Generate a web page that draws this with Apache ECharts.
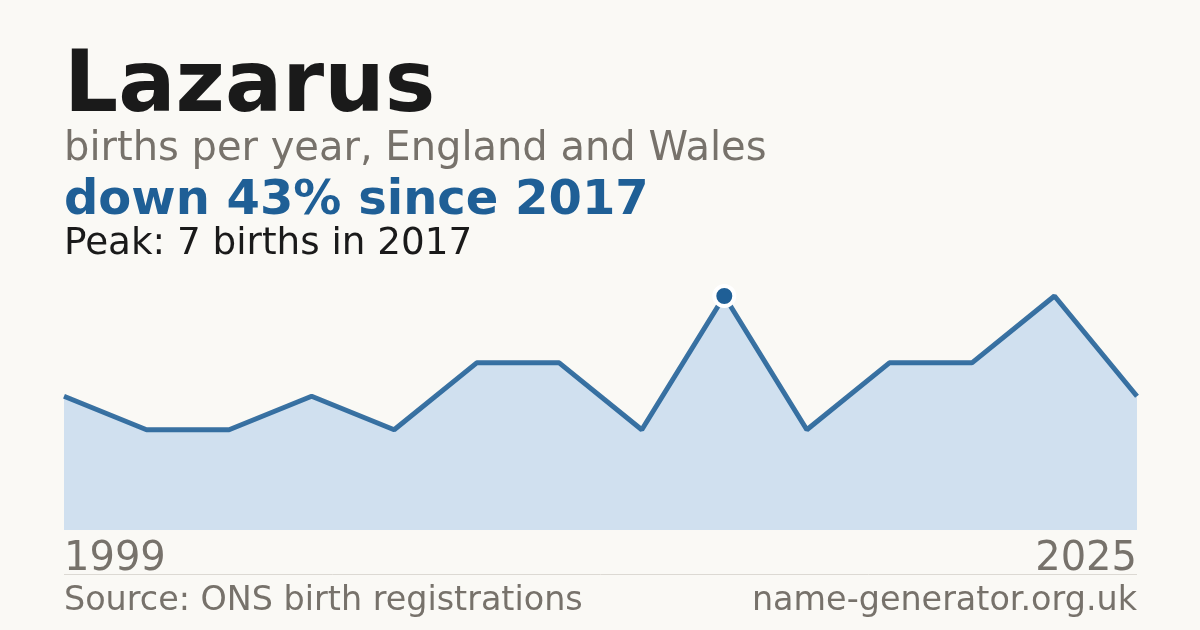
<!DOCTYPE html>
<html>
<head>
<meta charset="utf-8">
<script src="https://cdn.jsdelivr.net/npm/echarts@6/dist/echarts.min.js"></script>
<style>
html,body{margin:0;padding:0;background:#faf9f5;}
#c{width:1200px;height:630px;}
</style>
</head>
<body>
<div id="c"></div>
<script>
const years = ['1999','2002','2004','2006','2008','2010','2012','2014','2017','2019','2021','2022','2024','2025'];
const births = [4,3,3,4,3,5,5,3,7,3,5,5,7,4];
const peakIndex = 8;

const FONT = '"DejaVu Sans", sans-serif';
const chart = echarts.init(document.getElementById('c'), null, {renderer:'canvas'});

const seriesData = births.map((v,i)=> i===peakIndex ? {
  value: v, symbol:'circle', symbolSize:20,
  itemStyle:{color:'#1f5f96', borderColor:'#ffffff', borderWidth:4}
} : v);

chart.setOption({
  backgroundColor:'#faf9f5',
  animation:false,
  grid:{left:64, right:63, top:296, bottom:100, containLabel:false},
  xAxis:{
    type:'category', data:years, boundaryGap:false,
    axisLine:{show:false}, axisTick:{show:false}, splitLine:{show:false},
    axisLabel:{
      interval:(i)=> i===0 || i===years.length-1,
      color:'#77726b', fontFamily:FONT, fontSize:40, margin:10,
      alignMinLabel:'left', alignMaxLabel:'right'
    }
  },
  yAxis:{type:'value', min:0, max:7, show:false},
  series:[{
    type:'line', data:seriesData, symbol:'none', showSymbol:true, clip:false,
    lineStyle:{color:'#1f5f96', width:5, opacity:0.88},
    areaStyle:{color:'#d0e0ef', opacity:1},
    z:2
  }],
  graphic:[
    {type:'text', left:64, top:46, style:{text:'Lazarus', font:'bold 85px '+FONT, fill:'#1a1a1a'}},
    {type:'text', left:64, top:130, style:{text:'births per year, England and Wales', font:'40px '+FONT, fill:'#77726b'}},
    {type:'text', left:64, top:178, style:{text:'down 43% since 2017', font:'bold 48px '+FONT, fill:'#1f5f96'}},
    {type:'text', left:64, top:226, style:{text:'Peak: 7 births in 2017', font:'37.3px '+FONT, fill:'#1a1a1a'}},
    {type:'line', shape:{x1:64, y1:574.5, x2:1137, y2:574.5}, style:{stroke:'#dcd9d3', lineWidth:1}},
    {type:'text', left:64, top:585, style:{text:'Source: ONS birth registrations', font:'33.4px '+FONT, fill:'#77726b'}},
    {type:'text', right:63, top:585, style:{text:'name-generator.org.uk', font:'33.4px '+FONT, fill:'#77726b'}}
  ]
});
</script>
</body>
</html>
